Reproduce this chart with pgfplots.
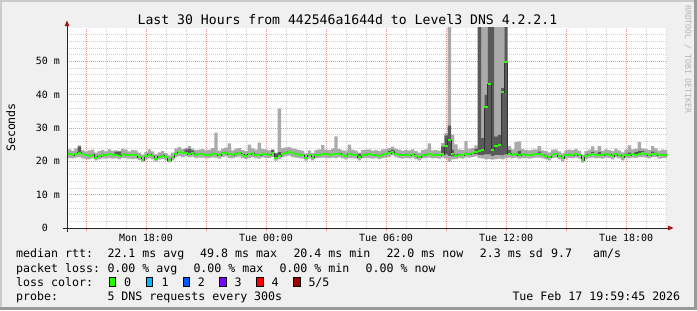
\documentclass[border=0pt]{standalone}
\usepackage{fontspec}
\setmainfont{DejaVu Sans Mono}
\usepackage{pgfplots}
\pgfplotsset{compat=1.18}
\usepackage{pgfplotstable}
\definecolor{bgc}{HTML}{F0F0F0}
\definecolor{shadea}{HTML}{CBCBCB}
\definecolor{shadeb}{HTML}{999999}
\definecolor{gridc}{HTML}{D0D0D0}
\definecolor{mgridc}{HTML}{EE8E8E}
\definecolor{arrowc}{HTML}{A51515}
\definecolor{lightsmoke}{HTML}{AAAAAA}
\definecolor{darksmoke}{HTML}{5A5A5A}
\definecolor{medgreen}{HTML}{26FF00}
\definecolor{loss1}{HTML}{00B8FF}
\definecolor{loss2}{HTML}{0059FF}
\definecolor{loss3}{HTML}{7E00FF}
\definecolor{loss4}{HTML}{FF0000}
\definecolor{loss5}{HTML}{A00000}
\definecolor{wmc}{HTML}{B4B4B4}
\newcommand\lf{\fontsize{11.65}{14}\selectfont}

% k = 10-minute bins from Mon 14:00; columns: min, inner-low, median, inner-high, max (ms)
\pgfplotstableread{
k mn lo md hi mx
0 21.0 21.9 22.2 22.5 23.6
1 21.0 21.9 22.2 22.5 23.6
2 20.9 21.6 21.9 22.2 23.2
3 21.1 21.9 22.2 22.5 23.9
4 21.3 22.1 22.6 24.5 24.8
5 20.9 21.8 22.1 22.4 23.4
6 20.7 21.5 21.8 22.1 23.0
7 20.6 21.4 21.7 22.0 23.3
8 20.9 21.7 22.0 22.3 23.5
9 20.3 20.8 21.1 21.4 22.6
10 20.6 21.3 21.6 21.9 23.1
11 20.9 21.7 22.0 22.3 23.4
12 20.8 21.5 21.8 22.1 23.0
13 21.0 21.8 22.1 22.4 23.6
14 20.8 21.6 21.9 22.2 23.2
15 20.9 21.7 22.0 22.9 23.3
16 20.6 21.4 21.7 23.0 23.1
17 21.0 21.8 22.1 22.4 23.8
18 20.9 21.7 22.0 22.3 23.5
19 20.8 21.6 21.9 22.2 23.0
20 20.7 21.5 21.8 22.1 23.4
21 20.8 21.6 21.9 22.2 23.3
22 20.4 21.0 21.3 21.6 22.6
23 19.8 20.1 20.4 20.7 21.9
24 20.6 21.2 21.5 21.8 22.8
25 20.9 21.7 22.0 22.3 23.6
26 20.6 21.3 21.6 21.9 23.0
27 19.9 20.3 20.6 20.9 22.1
28 20.5 21.1 21.4 21.7 22.7
29 20.7 21.4 21.7 22.0 23.1
30 20.3 20.9 21.2 21.5 22.5
31 19.7 20.0 20.3 20.6 21.8
32 20.4 21.0 21.3 21.6 22.6
33 21.3 22.0 22.3 22.6 23.9
34 21.6 22.5 22.8 23.1 24.3
35 21.3 22.1 22.4 22.7 23.7
36 21.5 22.3 22.6 23.6 24.0
37 21.2 21.9 22.2 23.8 24.6
38 21.4 22.2 22.5 23.3 23.8
39 21.0 21.7 22.0 22.3 23.4
40 21.1 21.8 22.1 22.4 23.5
41 21.1 21.9 22.2 22.5 23.7
42 20.9 21.6 21.9 22.2 23.3
43 21.0 21.7 22.0 22.3 23.5
44 21.2 22.0 22.3 22.6 24.0
45 21.1 21.9 22.2 22.5 28.6
46 20.8 21.5 21.8 22.1 23.2
47 21.3 22.1 22.4 22.7 23.8
48 21.5 22.3 22.6 22.9 24.1
49 21.0 21.8 22.1 22.4 25.4
50 20.9 21.6 21.9 22.2 23.3
51 21.2 22.0 22.3 22.6 23.8
52 21.4 22.2 22.5 22.8 24.0
53 21.0 21.7 22.0 22.3 23.4
54 20.7 21.4 21.7 22.0 23.1
55 21.0 21.8 22.1 22.4 25.0
56 21.3 22.1 22.4 22.7 23.9
57 21.0 21.7 22.0 22.3 23.5
58 20.8 21.5 21.8 22.1 25.6
59 21.2 22.0 22.3 22.6 23.7
60 21.0 21.8 22.1 22.4 23.6
61 21.0 21.7 22.0 22.3 23.3
62 21.3 22.1 22.4 23.4 23.6
63 20.2 20.7 21.0 22.4 22.5
64 20.6 21.2 21.5 22.8 35.8
65 21.2 22.0 22.3 22.6 24.0
66 21.5 22.3 22.6 22.9 24.2
67 21.7 22.5 22.8 23.1 24.3
68 21.3 22.1 22.4 22.7 23.9
69 21.1 21.9 22.2 22.5 23.7
70 21.0 21.7 22.0 22.3 23.4
71 20.8 21.5 21.8 22.1 23.2
72 20.2 20.7 21.0 21.3 22.4
73 20.8 21.5 21.8 22.1 23.3
74 20.3 20.8 21.1 21.4 22.5
75 20.9 21.6 21.9 22.2 23.4
76 21.0 21.7 22.0 22.3 23.6
77 21.1 21.9 22.2 22.5 24.9
78 21.0 21.8 22.1 22.4 23.5
79 21.0 21.7 22.0 22.3 23.4
80 21.1 21.9 22.2 22.5 23.8
81 21.0 21.8 22.1 22.4 27.5
82 21.2 22.0 22.3 22.6 23.7
83 20.9 21.6 21.9 22.2 23.3
84 20.6 21.3 21.6 21.9 23.2
85 21.0 21.8 22.1 22.4 25.0
86 21.0 21.7 22.0 22.3 23.5
87 20.8 21.5 21.8 22.1 23.2
88 20.3 20.9 21.2 22.3 22.6
89 20.9 21.6 21.9 22.2 23.4
90 21.0 21.7 22.0 22.3 23.5
91 21.0 21.8 22.1 22.4 23.6
92 20.8 21.5 21.8 22.1 23.2
93 21.0 21.7 22.0 22.3 23.4
94 20.7 21.4 21.7 22.0 23.1
95 21.0 21.7 22.0 22.3 23.6
96 21.1 21.8 22.1 22.4 23.7
97 21.3 22.1 22.4 23.2 24.0
98 21.8 22.6 22.9 23.5 24.4
99 21.3 22.0 22.3 22.6 23.8
100 21.0 21.7 22.0 22.3 23.5
101 20.8 21.5 21.8 22.1 23.2
102 21.0 21.7 22.0 22.3 23.4
103 20.9 21.6 21.9 22.2 23.3
104 21.1 21.8 22.1 22.4 23.6
105 20.7 21.4 21.7 22.0 23.1
106 20.3 20.9 21.2 21.5 22.6
107 20.9 21.6 21.9 22.2 23.4
108 21.0 21.7 22.0 22.3 23.6
109 21.1 21.8 22.1 22.4 25.4
110 20.9 21.6 21.9 22.2 23.3
111 21.0 21.7 22.0 22.3 23.4
112 20.8 21.5 21.8 22.1 23.2
113 21.1 21.9 22.2 24.5 25.5
114 20.8 22.0 24.6 27.8 28.5
115 19.9 21.5 26.3 30.8 100
116 20.6 21.4 22.1 23.5 28.0
117 20.7 21.4 21.7 22.0 25.1
118 21.0 21.7 22.0 22.3 23.6
119 20.8 21.5 21.8 22.1 23.4
120 21.2 22.0 22.3 22.6 26.1
121 21.1 21.9 22.2 22.5 23.8
122 21.3 22.1 22.4 22.7 24.0
123 21.5 22.1 22.8 23.8 24.8
124 21.0 21.8 23.0 100 100
125 20.8 21.9 23.5 27.0 100
126 20.6 22.0 36.3 40.0 100
127 20.7 22.0 43.1 100 100
128 20.5 21.6 23.5 100 100
129 20.7 21.8 24.5 27.5 100
130 20.8 21.9 25.0 28.0 100
131 20.6 21.7 40.8 42.0 100
132 20.9 22.0 49.8 100 100
133 21.1 21.8 22.3 23.5 24.6
134 20.9 21.7 22.0 22.3 23.6
135 21.1 22.0 22.3 22.6 25.8
136 20.8 21.6 21.9 23.2 26.0
137 21.0 21.8 22.1 22.4 23.7
138 21.0 21.7 22.0 22.3 23.4
139 20.8 21.5 21.8 22.1 23.3
140 21.0 21.7 22.0 22.3 23.5
141 21.1 21.8 22.1 22.4 23.6
142 21.1 21.9 22.2 23.0 24.6
143 20.9 21.6 21.9 22.2 23.3
144 20.7 21.4 21.7 22.0 23.1
145 20.3 20.9 21.2 21.5 22.7
146 21.0 21.7 22.0 22.3 23.5
147 21.1 21.8 22.1 22.4 23.6
148 20.6 21.3 21.6 21.9 23.0
149 20.0 20.6 20.9 21.2 22.4
150 20.8 21.5 21.8 22.1 23.3
151 21.0 21.7 22.0 22.3 23.5
152 20.9 21.6 21.9 22.2 23.4
153 21.1 21.8 22.1 22.4 23.7
154 20.8 21.5 21.8 22.1 23.2
155 19.6 20.1 20.4 20.7 21.9
156 20.7 21.4 21.7 22.0 23.1
157 21.0 21.7 22.0 22.3 23.5
158 21.1 21.8 22.1 22.9 24.5
159 20.9 21.6 21.9 22.2 23.3
160 21.0 21.7 22.0 22.8 24.6
161 20.8 21.5 21.8 22.1 23.2
162 21.1 21.8 22.1 22.4 23.6
163 21.0 21.7 22.0 22.3 23.4
164 20.6 21.3 21.6 21.9 23.1
165 21.2 21.9 22.2 22.5 23.8
166 20.9 21.6 21.9 22.2 23.3
167 20.3 21.0 21.3 21.6 22.7
168 21.0 21.7 22.0 22.3 23.5
169 20.9 21.6 21.9 22.7 24.8
170 21.1 21.8 22.1 22.4 23.6
171 21.0 21.7 22.0 22.8 23.7
172 21.3 22.0 22.3 23.2 25.8
173 21.3 22.1 22.4 23.1 23.9
174 21.1 21.8 22.1 22.4 23.7
175 20.9 21.6 21.9 22.2 23.4
176 21.2 21.9 22.2 23.0 24.6
177 21.3 22.0 22.3 22.6 23.9
178 20.8 21.5 21.8 22.1 23.2
179 21.0 21.7 22.0 22.3 23.5
180 21.0 21.7 22.0 22.3 23.4
}\smoke

\pgfplotsset{
  rrdframe/.style={
    at={(67bp,82bp)}, anchor=south west,
    scale only axis, width=600bp, height=200bp,
    xmin=0.3, xmax=180.3, ymin=0, ymax=60,
    clip=true,
  },
}

\begin{document}
\begin{tikzpicture}
\begin{scope}[x=1bp,y=1bp]
\fill[bgc] (0,0) rectangle (697,310);
\fill[shadea] (0,0) rectangle (2,310);
\fill[shadea] (0,308) rectangle (697,310);
\fill[shadeb] (694,0) rectangle (697,310);
\fill[shadeb] (0,0) rectangle (697,3);
\end{scope}

% smoke (stacked bars: invisible base at min, then outer/inner/outer bands)
\begin{axis}[rrdframe,
  ybar stacked, bar width=1,
  axis background/.style={fill=white},
  axis line style={draw=none},
  tick pos=left, ticklabel pos=left,
  tick align=outside,
  major tick length=2.5bp, minor tick length=0pt,
  xtick style={draw=mgridc, line width=0.8bp},
  ytick style={draw=none},
  xtick={6,24,42,60,78,96,114,132,150,168},
  xticklabels={,Mon 18:00,,Tue 00:00,,Tue 06:00,,Tue 12:00,,Tue 18:00},
  minor xtick={12,18,30,36,48,54,66,72,84,90,102,108,120,126,138,144,156,162,174,180},
  ytick={0,10,20,30,40,50},
  yticklabels={0\phantom{~m},10 m,20 m,30 m,40 m,50 m},
  minor ytick={2,4,6,8,12,14,16,18,22,24,26,28,32,34,36,38,42,44,46,48,52,54,56,58},
  grid=both,
  minor grid style={draw=gridc, line width=0.8bp, dash pattern=on 1bp off 1bp},
  major grid style={draw=mgridc, line width=0.8bp, dash pattern=on 1bp off 1bp},
  ticklabel style={font=\fontsize{10}{12}\selectfont},
  yticklabel style={xshift=-1bp},
]
\addplot[draw=none, fill=none] table[x=k, y=mn]{\smoke};
\addplot[draw=none, fill=lightsmoke] table[x=k, y expr=\thisrow{lo}-\thisrow{mn}]{\smoke};
\addplot[draw=none, fill=darksmoke] table[x=k, y expr=\thisrow{hi}-\thisrow{lo}]{\smoke};
\addplot[draw=none, fill=lightsmoke] table[x=k, y expr=\thisrow{mx}-\thisrow{hi}]{\smoke};
\end{axis}

% median line
\begin{axis}[rrdframe, hide axis]
\addplot[black!80, line width=0.6bp, const plot mark mid] table[x=k,y=md]{\smoke};
\addplot[only marks, mark=-, mark size=1.75bp, mark options={draw=medgreen, line width=1.8bp}] table[x=k,y=md]{\smoke};
\end{axis}

\begin{scope}[x=1bp,y=1bp]
% axis lines with arrows
\draw[line width=1bp, black!85] (63,82) -- (668,82);
\fill[arrowc] (668,79.6) -- (673.5,82) -- (668,84.4) -- cycle;
\draw[line width=1bp, black!85] (67,78) -- (67,284);
\fill[arrowc] (64.6,284) -- (67,289.5) -- (69.4,284) -- cycle;

% title, y label, watermark
\node[anchor=base, inner sep=0, font=\fontsize{13.2}{15}\selectfont] at (347.4,286) {Last 30 Hours from 442546a1644d to Level3 DNS 4.2.2.1};
\node[rotate=90, inner sep=0, font=\lf] at (10.8,182.5) {Seconds};
\node[rotate=-90, anchor=west, inner sep=0, text=wmc, font=\fontsize{8.2}{10}\selectfont] at (688,305) {RRDTOOL / TOBI OETIKER};

% legend
\begin{scope}[every node/.style={anchor=base west, inner sep=0, font=\lf}]
\node at (16,52.2) {median rtt:};
\node at (107.3,52.2) {22.1 ms avg};
\node at (200,52.2) {49.8 ms max};
\node at (293.3,52.2) {20.4 ms min};
\node at (386.3,52.2) {22.0 ms now};
\node at (479.7,52.2) {2.3 ms sd};
\node at (551,52.2) {9.7};
\node at (593,52.2) {am/s};
\node at (16,38) {packet loss:};
\node at (107.3,38) {0.00 \% avg};
\node at (193.3,38) {0.00 \% max};
\node at (279.3,38) {0.00 \% min};
\node at (365.5,38) {0.00 \% now};
\node at (16,23.8) {loss color:};
\node at (124,23.8) {0};
\node at (161.3,23.8) {1};
\node at (197.7,23.8) {2};
\node at (234.3,23.8) {3};
\node at (271.3,23.8) {4};
\node at (308.3,23.8) {5/5};
\node at (16,9.6) {probe:};
\node at (107.3,9.6) {5 DNS requests every 300s};
\node at (512.3,9.6) {Tue Feb 17 19:59:45 2026};
\end{scope}
\begin{scope}[line width=0.8bp]
\filldraw[fill=medgreen, draw=black] (109,23.2) rectangle (115.4,32.4);
\filldraw[fill=loss1, draw=black] (146,23.2) rectangle (152.4,32.4);
\filldraw[fill=loss2, draw=black] (183,23.2) rectangle (189.4,32.4);
\filldraw[fill=loss3, draw=black] (219.6,23.2) rectangle (226,32.4);
\filldraw[fill=loss4, draw=black] (256.6,23.2) rectangle (263,32.4);
\filldraw[fill=loss5, draw=black] (293.6,23.2) rectangle (300,32.4);
\end{scope}
\end{scope}
\end{tikzpicture}
\end{document}
